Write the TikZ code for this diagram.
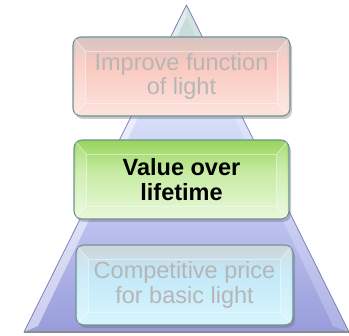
\documentclass[tikz,border=0pt]{standalone}
\usepackage{fontspec}
\setmainfont{Liberation Sans}
\usetikzlibrary{calc,shadows}
\definecolor{pyrB}{HTML}{989CDA}
\definecolor{pyrM}{HTML}{BEC2F0}
\definecolor{pyrL}{HTML}{D6DEF8}
\definecolor{pyrT}{HTML}{C4DCD2}
\definecolor{pkT}{HTML}{D6C4C2}
\definecolor{pkM}{HTML}{F9C8BE}
\definecolor{pkB}{HTML}{FDE4DE}
\definecolor{gnT}{HTML}{98D45C}
\definecolor{gnM}{HTML}{C6EBA2}
\definecolor{gnB}{HTML}{EAF8DC}
\definecolor{blT}{HTML}{CDD5D9}
\definecolor{blM}{HTML}{C2E8F8}
\definecolor{blB}{HTML}{D8F5FD}
\definecolor{boxline}{HTML}{6E9494}
\definecolor{paletext}{HTML}{B6B6B6}
\definecolor{pyrline}{HTML}{7E80BC}
\pgfdeclareverticalshading{pyrshade}{100bp}{color(0bp)=(pyrB); color(25bp)=(pyrB); color(42bp)=(pyrM); color(58bp)=(pyrL); color(75bp)=(pyrT); color(100bp)=(pyrT)}
\pgfdeclareverticalshading{pinkshade}{100bp}{color(0bp)=(pkB); color(25bp)=(pkB); color(58bp)=(pkM); color(75bp)=(pkT); color(100bp)=(pkT)}
\pgfdeclareverticalshading{greenshade}{100bp}{color(0bp)=(gnB); color(25bp)=(gnB); color(55bp)=(gnM); color(75bp)=(gnT); color(100bp)=(gnT)}
\pgfdeclareverticalshading{blueshade}{100bp}{color(0bp)=(blB); color(25bp)=(blB); color(58bp)=(blM); color(75bp)=(blT); color(100bp)=(blT)}
\tikzset{
  levelbox/.style={draw=boxline, line width=1.1pt, rounded corners=8pt, inner sep=0pt,
    drop shadow={shadow xshift=2pt, shadow yshift=-3pt, opacity=0.35, fill=black!60}},
  leveltext/.style={align=center, inner sep=0pt, font=\fontsize{23.5}{24.5}\selectfont},
  bevel/.style={white, opacity=0.45, line width=0.8pt},
  bevelside/.style={fill=white, opacity=0.18}
}
\newcommand{\boxbevel}[1]{%
  \coordinate (#1iNW) at ($(#1.north west)+(13,15)$);
  \coordinate (#1iNE) at ($(#1.north east)+(-13,15)$);
  \coordinate (#1iSW) at ($(#1.south west)+(13,-13)$);
  \coordinate (#1iSE) at ($(#1.south east)+(-13,-13)$);
  \fill[bevelside] ($(#1.north west)+(3,3)$) -- (#1iNW) -- (#1iSW) -- ($(#1.south west)+(3,-3)$) -- cycle;
  \fill[bevelside] ($(#1.north east)+(-3,3)$) -- (#1iNE) -- (#1iSE) -- ($(#1.south east)+(-3,-3)$) -- cycle;
  \draw[bevel] (#1iNW) rectangle (#1iSE);
  \draw[bevel] ($(#1.north west)+(3,3)$) -- (#1iNW);
  \draw[bevel] ($(#1.north east)+(-3,3)$) -- (#1iNE);
  \draw[bevel] ($(#1.south west)+(3,-3)$) -- (#1iSW);
  \draw[bevel] ($(#1.south east)+(-3,-3)$) -- (#1iSE);
}
\begin{document}
\begin{tikzpicture}[x=1pt,y=-1pt]
\useasboundingbox (0,0) rectangle (349,336);
% pyramid
\coordinate (apex) at (186.5,5);
\coordinate (bl) at (24,332);
\coordinate (br) at (349,332);
\shade[shading=pyrshade] (apex) -- (br) -- (bl) -- cycle;
\fill[white, opacity=0.5] (apex) -- (bl) -- ($(bl)+(14,-6)$) -- ($(apex)+(0,12)$) -- cycle;
\fill[white, opacity=0.22] (apex) -- (br) -- ($(br)+(-16,-6)$) -- ($(apex)+(0,12)$) -- cycle;
\draw[pyrline, line width=0.8pt, line join=round] (apex) -- (br) -- (bl) -- cycle;
\draw[black!45, line width=1.2pt] (bl) -- (br);
% boxes
\node[levelbox, shading=pinkshade, minimum width=217pt, minimum height=79pt] (top) at (181.5,76.5) {};
\node[levelbox, shading=greenshade, minimum width=215pt, minimum height=79pt] (mid) at (181.5,179.5) {};
\node[levelbox, shading=blueshade, minimum width=217pt, minimum height=80pt] (bot) at (184.5,285) {};
\boxbevel{top}
\boxbevel{mid}
\boxbevel{bot}
\node[leveltext, text=paletext] (toptext) at (top.center) {Improve function\\of light};
\node[leveltext, text=black, font=\fontsize{23.5}{24.5}\selectfont\bfseries] (midtext) at (mid.center) {Value over\\lifetime};
\node[leveltext, text=paletext] (bottext) at (bot.center) {Competitive price\\for basic light};
\end{tikzpicture}
\end{document}
